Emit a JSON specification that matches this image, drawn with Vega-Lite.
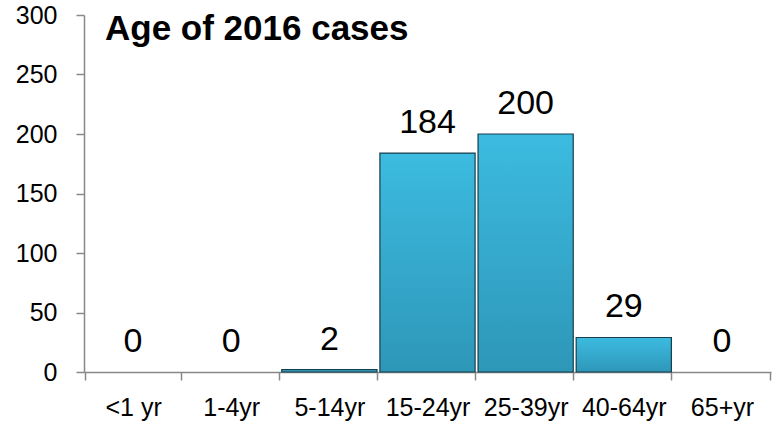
{
  "$schema": "https://vega.github.io/schema/vega-lite/v6.json",
  "autosize": "none",
  "width": 687,
  "height": 357,
  "padding": {"left": 84, "top": 15, "right": 7, "bottom": 54},
  "background": "white",
  "title": {
    "text": "Age of 2016 cases",
    "anchor": "start",
    "frame": "group",
    "dx": 21,
    "offset": -72,
    "baseline": "alphabetic",
    "font": "Liberation Sans",
    "fontSize": 35,
    "fontWeight": "bold",
    "color": "black"
  },
  "data": {
    "values": [
      {"age": "<1 yr", "cases": 0},
      {"age": "1-4yr", "cases": 0},
      {"age": "5-14yr", "cases": 2},
      {"age": "15-24yr", "cases": 184},
      {"age": "25-39yr", "cases": 200},
      {"age": "40-64yr", "cases": 29},
      {"age": "65+yr", "cases": 0}
    ]
  },
  "config": {
    "view": {"stroke": null},
    "font": "Liberation Sans"
  },
  "encoding": {
    "x": {
      "field": "age",
      "type": "nominal",
      "sort": null,
      "scale": {"paddingInner": 0.03, "paddingOuter": 0.015},
      "axis": {
        "title": null,
        "labelAngle": 0,
        "labelFont": "Liberation Sans",
        "labelFontSize": 25,
        "labelColor": "black",
        "labelPadding": 15,
        "tickBand": "extent",
        "tickSize": 8,
        "tickColor": "#888888",
        "domainColor": "#888888",
        "domainWidth": 1.5,
        "tickWidth": 1.5
      }
    },
    "y": {
      "field": "cases",
      "type": "quantitative",
      "scale": {"domain": [0, 300], "nice": false},
      "axis": {
        "title": null,
        "grid": false,
        "values": [0, 50, 100, 150, 200, 250, 300],
        "labelFont": "Liberation Sans",
        "labelFontSize": 25,
        "labelColor": "black",
        "labelPadding": 19,
        "tickSize": 8,
        "tickColor": "#888888",
        "domainColor": "#888888",
        "domainWidth": 1.5,
        "tickWidth": 1.5
      }
    }
  },
  "layer": [
    {
      "mark": {
        "type": "bar",
        "stroke": "#173f4c",
        "strokeWidth": 1.2,
        "color": {
          "gradient": "linear",
          "x1": 0, "y1": 0, "x2": 0, "y2": 1,
          "stops": [
            {"offset": 0, "color": "#3cbbe0"},
            {"offset": 1, "color": "#2e97b8"}
          ]
        }
      },
      "encoding": {
        "strokeOpacity": {"condition": {"test": "datum.cases > 0", "value": 1}, "value": 0}
      }
    },
    {
      "mark": {
        "type": "text",
        "baseline": "alphabetic",
        "dy": -20,
        "fontSize": 34,
        "font": "Liberation Sans",
        "color": "black"
      },
      "encoding": {
        "text": {"field": "cases", "type": "quantitative"}
      }
    }
  ]
}
